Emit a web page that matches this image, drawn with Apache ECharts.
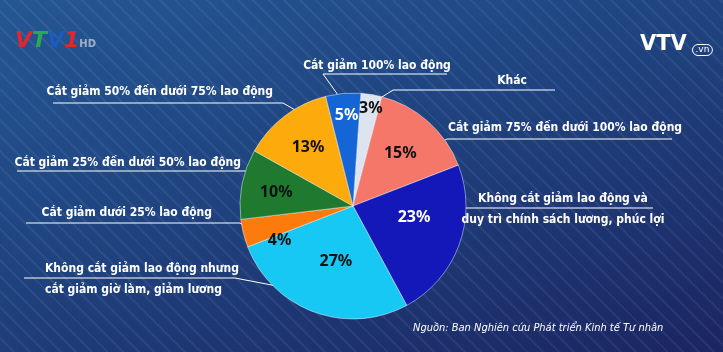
<!DOCTYPE html>
<html>
<head>
<meta charset="utf-8">
<script src="https://cdn.jsdelivr.net/npm/echarts@6/dist/echarts.min.js"></script>
<style>
html,body{margin:0;padding:0;width:723px;height:352px;overflow:hidden;}
body{
  background:
    repeating-linear-gradient(45deg, rgba(255,255,255,0) 0px, rgba(255,255,255,0) 9px, rgba(255,255,255,0.06) 9px, rgba(255,255,255,0.06) 11px),
    linear-gradient(160deg, #245793 0%, #1f437f 45%, #1b2562 100%);
}
#chart{width:723px;height:352px;}
</style>
</head>
<body>
<div id="chart"></div>
<script>
// du lieu bieu do
var names = ['Khác', 'Cắt giảm 75% đến dưới 100% lao động', 'Không cắt giảm lao động và\nduy trì chính sách lương, phúc lợi',
  'Không cắt giảm lao động nhưng\ncắt giảm giờ làm, giảm lương', 'Cắt giảm dưới 25% lao động',
  'Cắt giảm 25% đến dưới 50% lao động', 'Cắt giảm 50% đến dưới 75% lao động', 'Cắt giảm 100% lao động'];
var values = [3, 15, 23, 27, 4, 10, 13, 5];
var colors = ['#dde3ef', '#f4776a', '#1418b8', '#18c8f4', '#fd7b0c', '#1f7a2f', '#fdab0c', '#1565d6'];
var pctColors = ['#111', '#111', '#fff', '#111', '#111', '#111', '#111', '#fff'];

var center = [353, 206];
var radius = 113;
// vi tri nhan ben ngoai: [x, y, align, duong dan]
var outerPos = [
  [512, 81, 'center', [[382, 97], [393, 90], [555, 90]]],
  [448, 128, 'left', [[425, 151], [447, 139], [672, 139]]],
  [563, 209, 'center', [[445, 220], [465, 208], [653, 208]]],
  [45, 279, 'left', [[282, 287], [235, 278], [24, 278]]],
  [212, 213, 'right', [[252, 232], [240, 223], [26, 223]]],
  [241, 163, 'right', [[260, 178], [247, 171], [17, 171]]],
  [273, 92, 'right', [[297, 111], [283, 103], [53, 103]]],
  [377, 66, 'center', [[338, 95], [323, 74], [447, 74]]]
];
// nhan phan tram: [ban kinh, lech goc]
var innerPos = [[99, -1], [71, 0], [62, 10], [58, 3], [81, 11], [78, 1], [74, 0], [91, -1]];

var font = '"DejaVu Sans Condensed", "Liberation Sans Narrow", sans-serif';

var pieData = [], pctData = [];
for (var i = 0; i < values.length; i++) {
  pieData.push({name: names[i], value: values[i], itemStyle: {color: colors[i]}});
  pctData.push({name: names[i], value: values[i], label: {color: pctColors[i]}});
}

var myChart = echarts.init(document.getElementById('chart'));
var logoFont = {fontSize: 22, fontWeight: 900, fontStyle: 'italic', fontFamily: 'DejaVu Sans'};
var option = {
  animation: false,
  graphic: [
    {type: 'text', left: 15, top: 30, style: {
      rich: {
        r: echarts.util.extend({fill: '#e3262c'}, logoFont),
        g: echarts.util.extend({fill: '#2ea84c'}, logoFont),
        b: echarts.util.extend({fill: '#1c5cc0'}, logoFont),
        hd: {fill: '#9fb0c8', fontSize: 10, fontWeight: 'bold', fontFamily: 'DejaVu Sans', padding: [7, 0, 0, 0]}
      },
      text: '{r|V}{g|T}{b|V}{r|1}{hd|HD}'
    }},
    {type: 'text', left: 640, top: 34, style: {
      text: 'VTV', fill: '#fff', fontSize: 21, fontWeight: 900, fontFamily: 'DejaVu Sans'
    }},
    {type: 'text', left: 692, top: 44, style: {
      text: '.vn', fill: '#fff', fontSize: 9, fontFamily: 'DejaVu Sans',
      borderColor: '#fff', borderWidth: 1, borderRadius: 6, padding: [1, 3]
    }},
    {type: 'text', left: 413, top: 323, style: {
      text: 'Nguồn: Ban Nghiên cứu Phát triển Kinh tế Tư nhân', fill: '#fff',
      fontSize: 11, fontStyle: 'italic', fontFamily: font
    }}
  ],
  series: [
    {
      type: 'pie',
      center: center,
      radius: [0, radius],
      startAngle: 86,
      clockwise: true,
      avoidLabelOverlap: false,
      itemStyle: {borderColor: 'rgba(255,255,255,0.45)', borderWidth: 1},
      label: {
        show: true, color: '#fff', fontSize: 12, fontWeight: 'bold', fontFamily: font,
        lineHeight: 21, overflow: 'none', alignTo: 'none'
      },
      labelLine: {show: true, lineStyle: {color: '#fff', width: 1}},
      labelLayout: function (params) {
        var p = outerPos[params.dataIndex];
        return {x: p[0], y: p[1], align: p[2], verticalAlign: 'middle', labelLinePoints: p[3]};
      },
      emphasis: {disabled: true},
      data: pieData
    },
    {
      type: 'pie',
      center: center,
      radius: [0, radius],
      startAngle: 86,
      clockwise: true,
      silent: true,
      itemStyle: {color: 'transparent'},
      label: {
        show: true, position: 'inside', fontSize: 16, fontWeight: 'bold', fontFamily: '"Noto Sans", sans-serif',
        formatter: function (p) { return p.value + '%'; }
      },
      labelLine: {show: false},
      labelLayout: function (params) {
        var r = params.labelRect;
        var lx = r.x + r.width / 2, ly = r.y + r.height / 2;
        var ang = Math.atan2(center[1] - ly, lx - center[0]);
        var q = innerPos[params.dataIndex];
        ang += q[1] * Math.PI / 180;
        return {
          x: center[0] + q[0] * Math.cos(ang),
          y: center[1] - q[0] * Math.sin(ang),
          align: 'center', verticalAlign: 'middle'
        };
      },
      data: pctData
    }
  ]
};
myChart.setOption(option);
</script>
</body>
</html>
